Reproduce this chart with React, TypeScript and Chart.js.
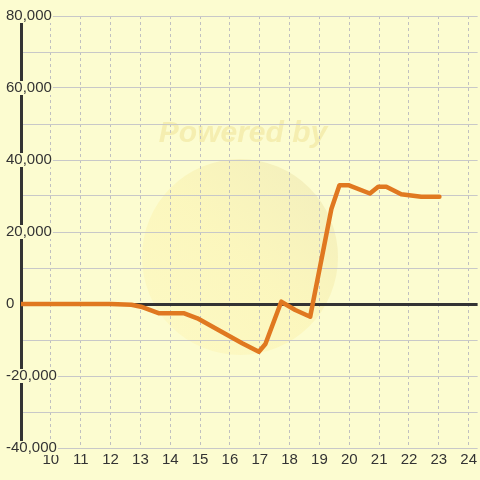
import React, { useEffect, useRef } from "react";
import { Chart, registerables } from "chart.js";

Chart.register(...registerables);

const hours = [9, 12, 12.7, 13.02, 13.63, 14.47, 14.91, 16.41, 16.97, 17.19, 17.72, 18.19, 18.69, 19.4, 19.67, 19.97, 20.69, 20.97, 21.24, 21.74, 22.41, 23.02];
const values = [0, 0, -200, -750, -2580, -2580, -3970, -10900, -13250, -11100, 640, -1670, -3530, 26400, 33000, 33000, 30700, 32600, 32600, 30500, 29800, 29800];
const xTickValues = [10, 11, 12, 13, 14, 15, 16, 17, 18, 19, 20, 21, 22, 23, 24];
const yMin = -40000;
const yMax = 80000;
const xMin = 9;
const xMax = 24.3;

const BG = "#FCFCD0";
const TEXT = "#333333";
const GRID = "#C8C8C8";

const backgroundPlugin = {
  id: "bgWatermark",
  beforeDraw(chart: any) {
    const { ctx, width, height } = chart;
    ctx.save();
    ctx.fillStyle = BG;
    ctx.fillRect(0, 0, width, height);
    const cx = 240, cy = 257, r = 98;
    const g = ctx.createLinearGradient(cx + r, cy - r, cx - r, cy + r);
    g.addColorStop(0, "rgba(225,215,160,0.4)");
    g.addColorStop(0.5, "rgba(250,235,150,0.32)");
    g.addColorStop(1, "rgba(255,240,160,0.25)");
    ctx.beginPath();
    ctx.arc(cx, cy, r, 0, Math.PI * 2);
    ctx.fillStyle = g;
    ctx.fill();
    ctx.font = "italic bold 30px 'Liberation Sans', Arial, sans-serif";
    ctx.fillStyle = "rgba(238,225,150,0.55)";
    ctx.textAlign = "center";
    ctx.textBaseline = "middle";
    ctx.fillText("Powered by", 243, 134);
    ctx.restore();
  },
};

export default function App() {
  const ref = useRef<HTMLCanvasElement | null>(null);

  useEffect(() => {
    document.body.style.margin = "0";
    const canvas = ref.current!;
    const chart = new Chart(canvas, {
      type: "line",
      data: {
        datasets: [
          {
            data: hours.map((h, i) => ({ x: h, y: values[i] })),
            borderColor: "#E07820",
            borderWidth: 4.5,
            pointRadius: 0,
            tension: 0,
            fill: false,
            borderJoinStyle: "round",
            borderCapStyle: "round",
          } as any,
        ],
      },
      options: {
        responsive: false,
        animation: false,
        layout: { padding: { top: 16, left: 6, right: 0, bottom: 0 } },
        plugins: {
          legend: { display: false },
          tooltip: { enabled: false },
        },
        scales: {
          x: {
            type: "linear",
            min: xMin,
            max: xMax,
            afterBuildTicks: (scale: any) => {
              scale.ticks = xTickValues.map((v) => ({ value: v }));
            },
            afterFit: (scale: any) => {
              scale.height = 32;
            },
            ticks: {
              autoSkip: false,
              maxRotation: 0,
              padding: 3,
              color: TEXT,
              font: { size: 15, family: "'Liberation Sans', Arial, sans-serif" },
              callback: (v: any) => String(v),
            },
            grid: {
              color: "#C0C0C0",
              lineWidth: 1,
              drawTicks: false,
            },
            border: { display: false, dash: [3, 3] },
          },
          y: {
            type: "linear",
            min: yMin,
            max: yMax,
            afterFit: (scale: any) => {
              scale.width = 15;
            },
            ticks: {
              stepSize: 10000,
              autoSkip: false,
              mirror: true,
              crossAlign: "near",
              padding: -15,
              color: TEXT,
              font: { size: 15, family: "'Liberation Sans', Arial, sans-serif" },
              showLabelBackdrop: true,
              backdropColor: BG,
              backdropPadding: { top: -2, bottom: -2, left: 0, right: 1 },
              callback: (v: any) =>
                Number(v) % 20000 === 0 ? Number(v).toLocaleString("en-US") : "",
            },
            grid: {
              drawTicks: false,
              color: (ctx: any) => (ctx.tick && ctx.tick.value === 0 ? TEXT : GRID),
              lineWidth: (ctx: any) => (ctx.tick && ctx.tick.value === 0 ? 3 : 1),
            },
            border: { display: true, width: 3, color: TEXT },
          },
        },
      } as any,
      plugins: [backgroundPlugin],
    });
    return () => chart.destroy();
  }, []);

  return (
    <div style={{ width: 480, height: 480 }}>
      <canvas ref={ref} width={480} height={480} style={{ display: "block" }} />
    </div>
  );
}
